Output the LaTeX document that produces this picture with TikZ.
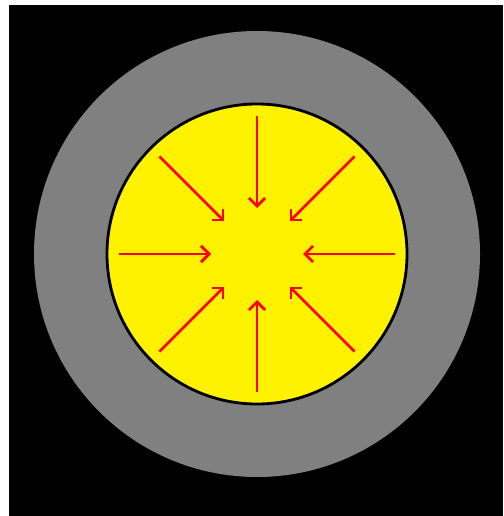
\documentclass[tikz,border=0pt]{standalone}
\usetikzlibrary{arrows.meta,calc}
\begin{document}
\begin{tikzpicture}[x=0.02cm, y=-0.02cm,
  inflow/.style={-{Straight Barb[angle=90:6.5pt]}, draw=red, line width=1.6pt}]
  \useasboundingbox (0,0) rectangle (503,516);
  \fill[black] (9,5) rectangle (503,516);
  \coordinate (c) at (257,254);
  % outer ring and core
  \fill[gray] (c) circle[radius=223];
  \filldraw[fill=yellow, draw=black, line width=1.6pt] (c) circle[radius=150];
  % arrows pointing inward
  \foreach \a in {0,45,...,315}
    \draw[inflow] ($(c)+(\a:138)$) -- ($(c)+(\a:46)$);
\end{tikzpicture}
\end{document}
